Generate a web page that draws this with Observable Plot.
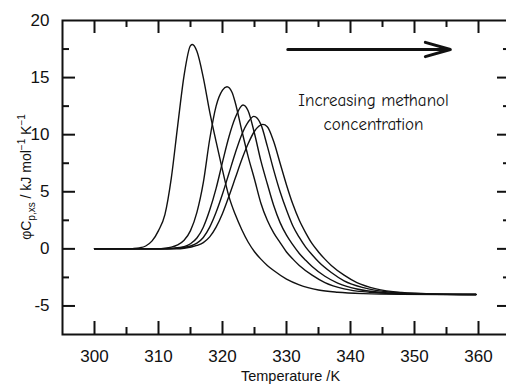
<!DOCTYPE html>
<html>
<head>
<meta charset="utf-8">
<script src="https://cdn.jsdelivr.net/npm/d3@7"></script>
<script src="https://cdn.jsdelivr.net/npm/@observablehq/plot@0.6"></script>
<style>
  html, body { margin: 0; padding: 0; background: #fff; }
  #chart { width: 506px; height: 388px; overflow: hidden; }
</style>
</head>
<body>
<div id="chart"></div>
<script>
// Axis ticks
const xMajorTicks = [300, 310, 320, 330, 340, 350, 360];
const xMinorTicks = [305, 315, 325, 335, 345, 355];
const yMajorTicks = [-5, 0, 5, 10, 15];
const yMinorTicks = [-2.5, 2.5, 7.5, 12.5, 17.5];
const yLabelTicks = [-5, 0, 5, 10, 15, 20];

// Excess heat capacity scans, [temperature / K, phiCp,xs / kJ mol-1 K-1]
const curve1 = [[300,0],[305,0],[306,0.02],[307,0.08],[308,0.25],[309,0.7],[310,1.6],[311,3.0],[312,6.2],[313,10.8],[314,15.2],[315,17.8],[315.3,17.9],[316,17.3],[317,15.0],[318,12.0],[319,9.4],[320,6.9],[321,4.6],[322,3.0],[323,1.7],[324,0.6],[325,-0.25],[326,-0.9],[327,-1.45],[328,-1.9],[330,-2.65],[332,-3.15],[335,-3.6],[338,-3.8],[342,-3.92],[348,-3.98],[359.6,-4.0]];
const curve2 = [[300,0],[310,0],[311,0.05],[312,0.15],[313,0.35],[314,0.75],[315,1.6],[316,3.2],[317,5.8],[318,9.6],[319,12.5],[320,13.9],[320.7,14.2],[321.5,13.7],[322,12.8],[323,10.4],[324,8.1],[325,6.1],[326,4.0],[327,2.5],[328,1.4],[329,0.55],[330,-0.27],[331,-0.9],[332,-1.45],[334,-2.3],[336,-2.95],[339,-3.5],[343,-3.8],[347,-3.92],[353,-3.98],[359.6,-4.0]];
const curve3 = [[300,0],[311,0],[312,0.05],[314,0.2],[315,0.45],[316,0.95],[317,1.9],[318,3.4],[319,5.3],[320,7.6],[321,9.8],[322,11.5],[323.2,12.6],[324,12.1],[325,10.1],[326,7.7],[327,5.7],[328,3.8],[329,2.3],[330,1.2],[331,0.35],[332,-0.4],[333,-1.0],[334,-1.55],[336,-2.4],[338,-3.0],[341,-3.52],[345,-3.82],[350,-3.95],[355,-3.99],[359.6,-4.0]];
const curve4 = [[300,0],[312,0],[313,0.05],[315,0.25],[316,0.5],[317,1.0],[318,1.9],[319,3.2],[320,4.8],[321,6.6],[322,8.4],[323,10.0],[324,11.1],[324.9,11.6],[326,10.9],[327,9.0],[328,6.9],[329,5.0],[330,3.4],[331,2.0],[332,1.0],[333,0.15],[334,-0.52],[335,-1.13],[337,-2.07],[339,-2.8],[342,-3.4],[346,-3.78],[351,-3.93],[356,-3.99],[359.6,-4.0]];
const curve5 = [[300,0],[313,0],[314,0.05],[316,0.3],[317,0.55],[318,1.05],[319,1.9],[320,3.1],[321,4.6],[322,6.2],[323,7.8],[324,9.2],[325,10.3],[326.3,10.9],[327,10.7],[328,9.4],[329,7.5],[330,5.6],[331,3.9],[332,2.5],[333,1.4],[334,0.45],[335,-0.27],[336,-0.9],[337,-1.45],[339,-2.3],[341,-2.95],[344,-3.5],[348,-3.82],[353,-3.95],[359.6,-4.0]];

// Annotation
const arrowFrom = [330.2, 17.46];
const arrowTo = [355.6, 17.46];
const noteText = "Increasing methanol\nconcentration";
const noteAt = [343.6, 12.1];
const xTitle = "Temperature /K";

const curves = [curve1, curve2, curve3, curve4, curve5];
const rows = curves.flatMap((c, k) => c.map(([t, v]) => ({series: k, t, v})));

const ink = "#111";
const plot = Plot.plot({
  width: 506,
  height: 388,
  marginLeft: 62,
  marginRight: -4,
  marginTop: 20,
  marginBottom: 54,
  x: {domain: [295, 365]},
  y: {domain: [-7.5, 20]},
  style: {fontFamily: "'Liberation Sans', Arial, sans-serif", fontSize: "17px", color: ink, background: "#fff"},
  marks: [
    Plot.line(rows, {x: "t", y: "v", z: "series", stroke: ink, strokeWidth: 1.4, curve: "monotone-x"}),
    // inward ticks, bottom and top
    Plot.ruleX(xMajorTicks, {x: d => d, y1: () => -7.5, y2: () => -7.5, insetTop: -13, stroke: ink, strokeWidth: 2}),
    Plot.ruleX(xMinorTicks, {x: d => d, y1: () => -7.5, y2: () => -7.5, insetTop: -7, stroke: ink, strokeWidth: 2}),
    Plot.ruleX(xMajorTicks, {x: d => d, y1: () => 20, y2: () => 20, insetBottom: -13, stroke: ink, strokeWidth: 2}),
    Plot.ruleX(xMinorTicks, {x: d => d, y1: () => 20, y2: () => 20, insetBottom: -7, stroke: ink, strokeWidth: 2}),
    // inward ticks, left and right
    Plot.ruleY(yMajorTicks, {y: d => d, x1: () => 295, x2: () => 295, insetRight: -13, stroke: ink, strokeWidth: 2}),
    Plot.ruleY(yMinorTicks, {y: d => d, x1: () => 295, x2: () => 295, insetRight: -7, stroke: ink, strokeWidth: 2}),
    Plot.ruleY(yMajorTicks, {y: d => d, x1: () => 365, x2: () => 365, insetLeft: -13, stroke: ink, strokeWidth: 2}),
    Plot.ruleY(yMinorTicks, {y: d => d, x1: () => 365, x2: () => 365, insetLeft: -7, stroke: ink, strokeWidth: 2}),
    Plot.frame({stroke: ink, strokeWidth: 2}),
    Plot.axisX({ticks: xMajorTicks, tickSize: 0, tickPadding: 15, fontSize: 17, tickFormat: d => String(d), label: null}),
    Plot.axisY({ticks: yLabelTicks, tickSize: 0, tickPadding: 13, fontSize: 17, tickFormat: d => String(d), label: null}),
    Plot.text([xTitle], {frameAnchor: "bottom", dx: 4, dy: 46, text: d => d, fontSize: 14.5, fill: ink}),
    Plot.arrow([0], {x1: () => arrowFrom[0], y1: () => arrowFrom[1], x2: () => arrowTo[0], y2: () => arrowTo[1], stroke: ink, strokeWidth: 3, headLength: 13, headAngle: 32}),
    Plot.text([noteText], {x: () => noteAt[0], y: () => noteAt[1], text: d => d, fontSize: 17, lineHeight: 1.4, fill: ink, fontFamily: "'Comic Sans MS', 'Comic Neue', 'Noto Sans', sans-serif"})
  ]
});

document.getElementById("chart").appendChild(plot);

// Rotated y-axis title with sub- and superscripts
const ys = plot.scale("y");
const cy = (ys.apply(20) + ys.apply(-7.5)) / 2;
const title = d3.select(plot).append("text")
  .attr("transform", `translate(31,${cy}) rotate(-90)`)
  .attr("text-anchor", "middle")
  .attr("fill", ink)
  .attr("font-size", 14)
  .attr("font-family", "'Liberation Sans', Arial, sans-serif");
title.append("tspan").text("\u03C6C");
title.append("tspan").attr("dy", 4).attr("font-size", 10).text("p,xs");
title.append("tspan").attr("dy", -4).text(" / kJ mol");
title.append("tspan").attr("dy", -6).attr("font-size", 10).text("\u22121");
title.append("tspan").attr("dy", 6).text(" K");
title.append("tspan").attr("dy", -6).attr("font-size", 10).text("\u22121");
</script>
</body>
</html>
